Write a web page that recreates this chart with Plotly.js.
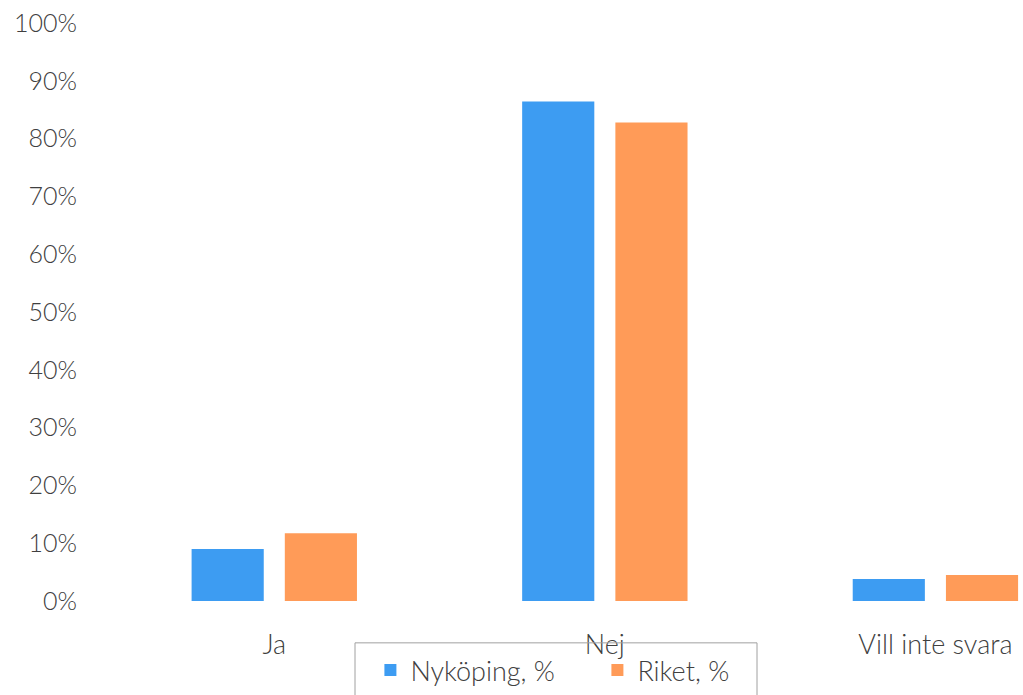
<!DOCTYPE html>
<html>
<head>
<meta charset="utf-8">
<script src="https://cdn.plot.ly/plotly-3.0.1.min.js"></script>
<style>html,body{margin:0;padding:0;background:#fff;}#chart{width:1023px;height:695px;}</style>
</head>
<body>
<div id="chart"></div>
<script>
const categories = ["Ja", "Nej", "Vill inte svara"];
const nykoping = [0.090, 0.864, 0.038];
const riket = [0.117, 0.828, 0.045];
const seriesNames = ["Nyköping, %", "Riket, %"];
const yTickValues = [0, 0.1, 0.2, 0.3, 0.4, 0.5, 0.6, 0.7, 0.8, 0.9, 1.0];
const yTickLabels = ["0%", "10%", "20%", "30%", "40%", "50%", "60%", "70%", "80%", "90%", "100%"];

const textColor = '#404040';
const fontFam = 'Lato, "Open Sans", sans-serif';

const data = [
  {type: 'bar', x: categories, y: nykoping, name: seriesNames[0], marker: {color: '#3d9cf2'}},
  {type: 'bar', x: categories, y: riket, name: seriesNames[1], marker: {color: '#ff9b58'}}
];

const layout = {
  width: 1023, height: 695,
  margin: {l: 109, r: 0, t: 23, b: 92, pad: 0},
  paper_bgcolor: '#fff', plot_bgcolor: '#fff',
  font: {family: fontFam, color: textColor, size: 24, weight: 300},
  barmode: 'group',
  bargap: 0.436,
  bargroupgap: 0.226,
  showlegend: true,
  legend: {
    orientation: 'h', x: 0.286, xanchor: 'left', y: -0.078, yanchor: 'top',
    font: {family: fontFam, size: 27, color: textColor, weight: 300},
    bgcolor: 'rgba(0,0,0,0)', borderwidth: 0, traceorder: 'normal',
    entrywidth: 182, entrywidthmode: 'pixels'
  },
  xaxis: {
    type: 'category', range: [-0.5, 2.265], fixedrange: true,
    showgrid: false, zeroline: false, showline: false,
    ticks: 'outside', ticklen: 20, tickcolor: 'rgba(0,0,0,0)',
    tickfont: {family: fontFam, size: 27, color: textColor, weight: 300}
  },
  yaxis: {
    range: [0, 1.0], fixedrange: true,
    tickvals: yTickValues, ticktext: yTickLabels,
    showgrid: false, zeroline: false, showline: false,
    ticks: 'outside', ticklen: 26, tickcolor: 'rgba(0,0,0,0)',
    tickfont: {family: fontFam, size: 25, color: textColor, weight: 300}
  },
  shapes: [{
    type: 'rect', xref: 'paper', yref: 'paper',
    x0: (355 - 109) / 914, x1: (757 - 109) / 914,
    y0: -0.0724, y1: -0.2,
    line: {color: '#a0a0a0', width: 1}, fillcolor: 'rgba(0,0,0,0)', layer: 'above'
  }]
};

Plotly.newPlot('chart', data, layout, {displayModeBar: false, staticPlot: true});
</script>
</body>
</html>
